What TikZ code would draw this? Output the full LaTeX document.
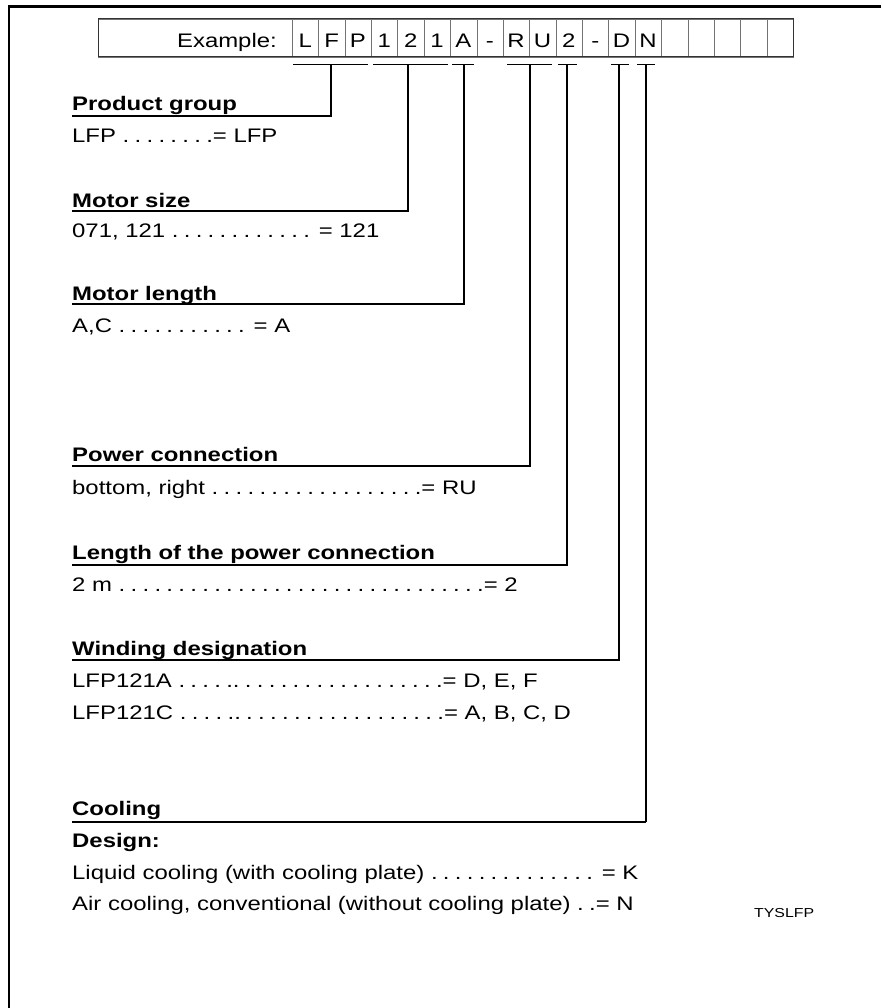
\documentclass[tikz,border=0pt]{standalone}
\usepackage{fontspec}
\setmainfont[FakeStretch=1.22]{Liberation Sans}
\newcommand\lead[1]{.\foreach \i in {2,...,#1}{\hspace{5.3pt}.}}
\begin{document}
\begin{tikzpicture}[x=1pt,y=-1pt,
  txt/.style={anchor=base west,inner sep=0pt,font=\fontsize{19.6}{23}\selectfont},
  hd/.style={txt,font=\fontsize{19.6}{23}\selectfont\bfseries},
  cell/.style={draw=black!55,line width=1pt,minimum width=26.37pt,minimum height=38pt,inner sep=0pt,anchor=north west},
  clet/.style={anchor=base,inner sep=0pt,font=\fontsize{19.6}{23}\selectfont},
  conn/.style={line width=1.8pt},
  frame/.style={line width=2.8pt}]
\useasboundingbox (0,0) rectangle (881,1008);
% frame
\draw[frame] (881,6.5) -- (9,6.5) -- (9,1008);
% label box
\node[cell,minimum width=194pt] (lab) at (98,19) {};
\node[clet,anchor=base east] (ex) at (277,47.5) {Example:};
% cells
\foreach \l [count=\i from 0] in {L,F,P,1,2,1,A,-,R,U,2,-,D,N,{},{},{},{},{}}{
  \node[cell] (c\i) at ({292+\i*26.368},19) {};
  \node[clet] (l\i) at ({292+\i*26.368+13.18},47.5) {\l};
}
\draw[draw=black!80,line width=1pt] (98,19) rectangle (793,57);
% brackets
\foreach \a/\b in {293/368,373/448,452/474,507/552,558/577,611/629,637/655}{
  \draw[conn] (\a,64.5) -- (\b,64.5);
}
\coordinate (t1) at (331,64.5);
\coordinate (t2) at (408,64.5);
\coordinate (t3) at (464,64.5);
\coordinate (t4) at (530,64.5);
\coordinate (t5) at (567,64.5);
\coordinate (t6) at (619,64.5);
\coordinate (t7) at (646,64.5);
% headings and values
\node[hd] (h1) at (72,111) {Product group};
\node[txt] (v1) at (72,143) {LFP \lead{8}= LFP};
\node[hd] (h2) at (72,208) {Motor size};
\node[txt] (v2) at (72,237) {071, 121 \lead{12} = 121};
\node[hd] (h3) at (72,300) {Motor length};
\node[txt] (v3) at (72,332) {A,C \lead{11} = A};
\node[hd] (h4) at (72,461) {Power connection};
\node[txt] (v4) at (72,494) {bottom, right \lead{18}= RU};
\node[hd] (h5) at (72,559) {Length of the power connection};
\node[txt] (v5) at (72,591) {2 m \lead{31}= 2};
\node[hd] (h6) at (72,655) {Winding designation};
\node[txt] (v6) at (72,687) {LFP121A \lead{5}.\hspace{5.3pt}\lead{17}= D, E, F};
\node[txt] (v7) at (72,719) {LFP121C \lead{5}.\hspace{5.3pt}\lead{17}= A, B, C, D};
\node[hd] (h7) at (72,815) {Cooling};
\node[hd] (d7) at (72,847) {Design:};
\node[txt] (v8) at (72,879) {Liquid cooling (with cooling plate) \lead{14} = K};
\node[txt] (v9) at (72,910) {Air cooling, conventional (without cooling plate) \lead{2}= N};
\node[txt,font=\fontsize{13}{15}\selectfont] (tag) at (754,917) {TYSLFP};
% connectors
\coordinate (e1) at (71.5,116);
\coordinate (e2) at (71.5,211);
\coordinate (e3) at (71.5,304);
\coordinate (e4) at (71.5,466);
\coordinate (e5) at (71.5,565);
\coordinate (e6) at (71.5,660);
\coordinate (e7) at (71.5,822);
\foreach \n in {1,...,6}{\draw[conn] (t\n) |- (e\n);}
\draw[conn] (t7) -- (t7 |- e7);
\draw[line width=2.6pt] (t7 |- e7) -- (e7);
\end{tikzpicture}
\end{document}
